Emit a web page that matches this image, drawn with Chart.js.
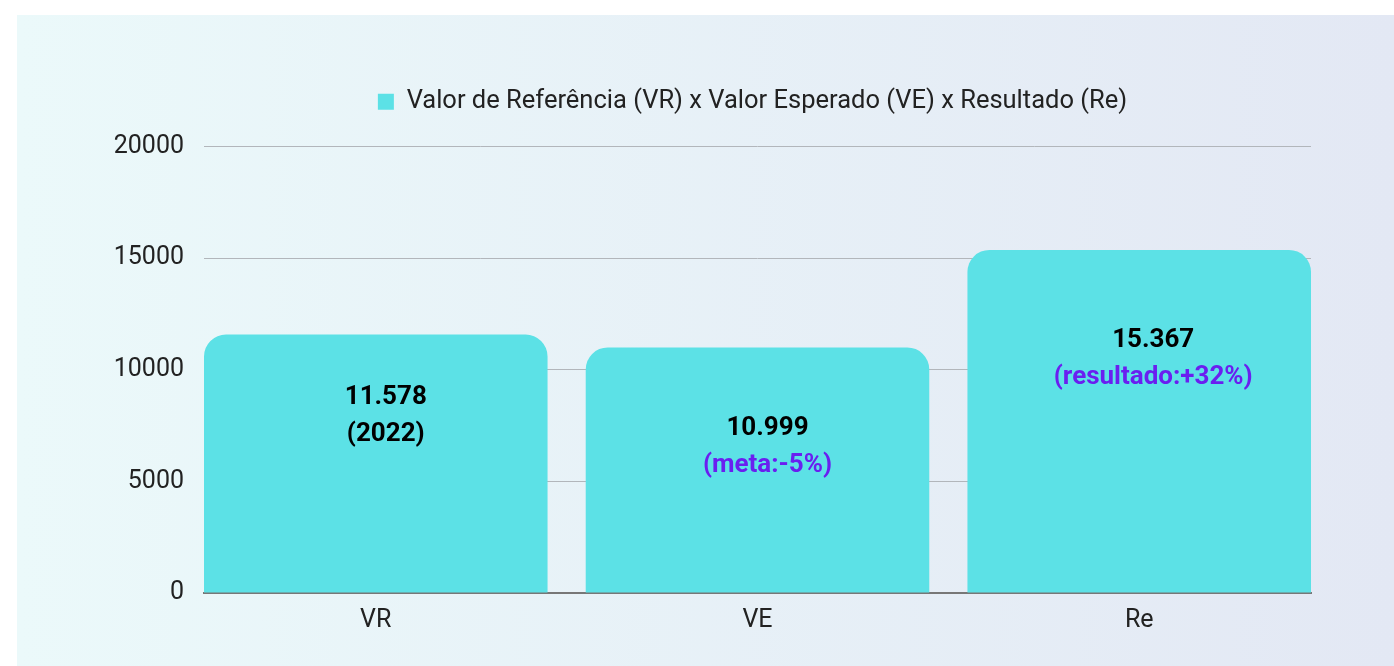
<!DOCTYPE html>
<html>
<head>
<meta charset="utf-8">
<script src="https://cdn.jsdelivr.net/npm/chart.js@4.4.1/dist/chart.umd.min.js"></script>
<style>
  html, body { margin: 0; padding: 0; background: #fff; }
  #card {
    position: absolute; left: 17px; top: 15px; width: 1377px; height: 651px;
    background: linear-gradient(to right, #ebf9fa, #e3e8f4);
  }
</style>
</head>
<body>
<div id="card"><canvas id="myChart"></canvas></div>
<script>
// data
const categories = ['VR', 'VE', 'Re']
const values = [11578, 10999, 15367]
const notes = ['(2022)', '(meta:-5%)', '(resultado:+32%)']
const yTicks = [0, 5000, 10000, 15000, 20000]
const seriesName = 'Valor de Referência (VR) x Valor Esperado (VE) x Resultado (Re)'

// styles
const barColor = '#5ce1e6'
const noteColors = ['#000000', '#6a1ff0', '#6a1ff0']
const labelDy = [63, 81, 91]   // px below bar top for first label line
const labelDx = [10, 10, 14]   // labels sit a bit right of bar centre

function fmt(v) {
  return String(v).replace(/\B(?=(\d{3})+(?!\d))/g, '.')
}

// draw value + note inside each bar
const barLabels = {
  id: 'barLabels',
  afterDatasetsDraw(chart) {
    const ctx = chart.ctx
    const meta = chart.getDatasetMeta(0)
    ctx.save()
    ctx.textAlign = 'center'
    ctx.textBaseline = 'middle'
    ctx.font = 'bold 26px Roboto'
    meta.data.forEach((bar, i) => {
      let x = bar.x + labelDx[i]
      let y = bar.y + labelDy[i]
      ctx.fillStyle = '#000'
      ctx.fillText(fmt(values[i]), x, y)
      ctx.fillStyle = noteColors[i]
      ctx.fillText(notes[i], x, y + 37)
    })
    ctx.restore()
  }
}

// extra room under the legend, and centre it over the plot area
const legendTweak = {
  id: 'legendTweak',
  beforeInit(chart) {
    const l = chart.legend
    if (!l) return
    const fit = l.fit
    l.fit = function () {
      fit.call(this)
      this.height += 22
    }
  },
  afterLayout(chart) {
    const l = chart.legend
    const a = chart.chartArea
    const shift = (a.left + a.right) / 2 - 5 - (l.left + l.right) / 2
    l.left += shift
    l.right += shift
  }
}

function draw() {
  Chart.defaults.font.family = 'Roboto'
  Chart.defaults.color = '#222'
  const ctx = document.getElementById('myChart')
  new Chart(ctx, {
    type: 'bar',
    data: {
      datasets: [{
        label: seriesName,
        data: values.map((v, i) => ({ x: i, y: v })),
        backgroundColor: barColor,
        borderWidth: 0,
        borderRadius: { topLeft: 22, topRight: 22, bottomLeft: 0, bottomRight: 0 },
        borderSkipped: 'start',
        barPercentage: 0.9,
        categoryPercentage: 1
      }]
    },
    options: {
      responsive: true,
      maintainAspectRatio: false,
      animation: false,
      layout: { padding: { top: 42, left: 0, right: 83, bottom: 0 } },
      plugins: {
        tooltip: { enabled: false },
        legend: {
          position: 'top',
          labels: {
            boxWidth: 16, boxHeight: 16, padding: 32,
            color: '#222',
            font: { size: 25.5 }
          }
        }
      },
      scales: {
        x: {
          type: 'linear',
          min: -0.45, max: 2.45,
          offset: false,
          grid: { display: false, drawTicks: false },
          border: { display: true, color: '#777', width: 2 },
          ticks: {
            stepSize: 1, includeBounds: false, padding: 13,
            color: '#222', font: { size: 25 },
            callback: v => categories[v] ?? ''
          },
          afterFit: s => { s.height = 73 }
        },
        y: {
          min: 0, max: 20000,
          grid: { color: '#b2b6bb', lineWidth: 1, drawTicks: false },
          border: { display: false },
          ticks: {
            padding: 20, color: '#222', font: { size: 25 },
            stepSize: 5000,
            callback: v => yTicks.includes(v) ? String(v) : ''
          },
          afterFit: s => { s.width = 187 }
        }
      }
    },
    plugins: [barLabels, legendTweak]
  })
}

Promise.all([
  document.fonts.load('25px Roboto'),
  document.fonts.load('bold 26px Roboto')
]).then(draw, draw)
</script>
</body>
</html>
